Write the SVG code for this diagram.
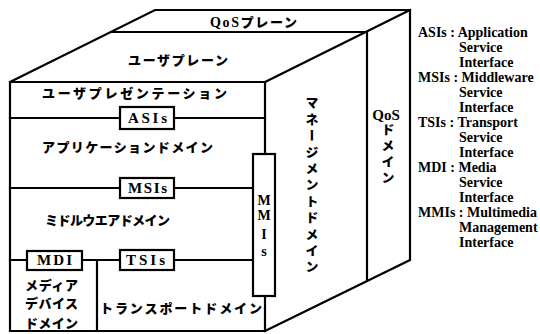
<svg xmlns="http://www.w3.org/2000/svg" width="540" height="334" viewBox="0 0 540 334">
<style>
.ln{stroke:#000;stroke-width:2.2;fill:none;stroke-linecap:square}
.bx{stroke:#000;stroke-width:2.2;fill:#fff}
.jp{font-family:"Noto Sans CJK JP","Noto Sans",sans-serif;font-weight:900;font-size:13px;fill:#000}
.en{font-family:"Liberation Serif","Times New Roman",serif;font-weight:bold;fill:#000}
.lb{font-size:15px}
.mm{font-size:14px;text-anchor:middle}
.lg{font-size:14px}
</style>
<rect width="540" height="334" fill="#fff"/>
<g id="connectors">
<path class="ln" d="M10,118 H265 M10,188 H253 M10,260 H253 M97,260 V331"/>
</g>
<g id="cube">
<path class="ln" d="M10,82 H265 V331 H10 Z M10,82 L155,10 H410 V260 L265,331 M265,82 L410,10 M111,32 H367 V281"/>
</g>
<g id="qos-plane"><text class="jp" x="210" y="27" textLength="87"><tspan class="en" style="font-size:14px">QoS</tspan>プレーン</text></g>
<g id="user-plane"><text class="jp" x="128" y="65" textLength="100">ユーザプレーン</text></g>
<g id="user-presentation"><text class="jp" x="42" y="98" textLength="185">ユーザプレゼンテーション</text></g>
<g id="application-domain"><text class="jp" x="42" y="152" textLength="171">アプリケーションドメイン</text></g>
<g id="middleware-domain"><text class="jp" x="45" y="225" textLength="125">ミドルウエアドメイン</text></g>
<g id="media-device-domain">
<text class="jp" x="25" y="290" textLength="53">メディア</text>
<text class="jp" x="25" y="308" textLength="53">デバイス</text>
<text class="jp" x="25" y="328" textLength="53">ドメイン</text>
</g>
<g id="transport-domain"><text class="jp" x="100" y="313" textLength="162">トランスポートドメイン</text></g>
<g id="management-domain"><text class="jp" x="312" y="96" style="writing-mode:vertical-rl;letter-spacing:3.4px">マネージメントドメイン</text></g>
<g id="qos-domain">
<text class="en" x="386" y="120" style="font-size:15px;text-anchor:middle">QoS</text>
<text class="jp" x="388" y="123" style="writing-mode:vertical-rl;letter-spacing:3px">ドメイン</text>
</g>
<g id="asis"><rect class="bx" x="120" y="107" width="54" height="22"/><text class="en lb" x="128" y="123" textLength="39">ASIs</text></g>
<g id="msis"><rect class="bx" x="120" y="178" width="54" height="20"/><text class="en lb" x="128" y="193" textLength="39">MSIs</text></g>
<g id="tsis"><rect class="bx" x="120" y="250" width="54" height="20"/><text class="en lb" x="126" y="265" textLength="39">TSIs</text></g>
<g id="mdi"><rect class="bx" x="27" y="251" width="55" height="19"/><text class="en lb" x="37" y="265" textLength="35">MDI</text></g>
<g id="mmis"><rect class="bx" x="253" y="154" width="22" height="142"/>
<text class="en mm" x="264" y="205">M</text>
<text class="en mm" x="264" y="220">M</text>
<text class="en mm" x="264" y="239">I</text>
<text class="en mm" x="264" y="256">s</text>
</g>
<g id="legend" class="en lg">
<text x="418" y="37">ASIs : Application</text>
<text x="459" y="52">Service</text>
<text x="459" y="67">Interface</text>
<text x="418" y="82">MSIs : Middleware</text>
<text x="459" y="97">Service</text>
<text x="459" y="112">Interface</text>
<text x="418" y="127">TSIs : Transport</text>
<text x="459" y="142">Service</text>
<text x="459" y="157">Interface</text>
<text x="418" y="172">MDI : Media</text>
<text x="459" y="187">Service</text>
<text x="459" y="202">Interface</text>
<text x="418" y="217">MMIs : Multimedia</text>
<text x="459" y="232">Management</text>
<text x="459" y="247">Interface</text>
</g>
</svg>
